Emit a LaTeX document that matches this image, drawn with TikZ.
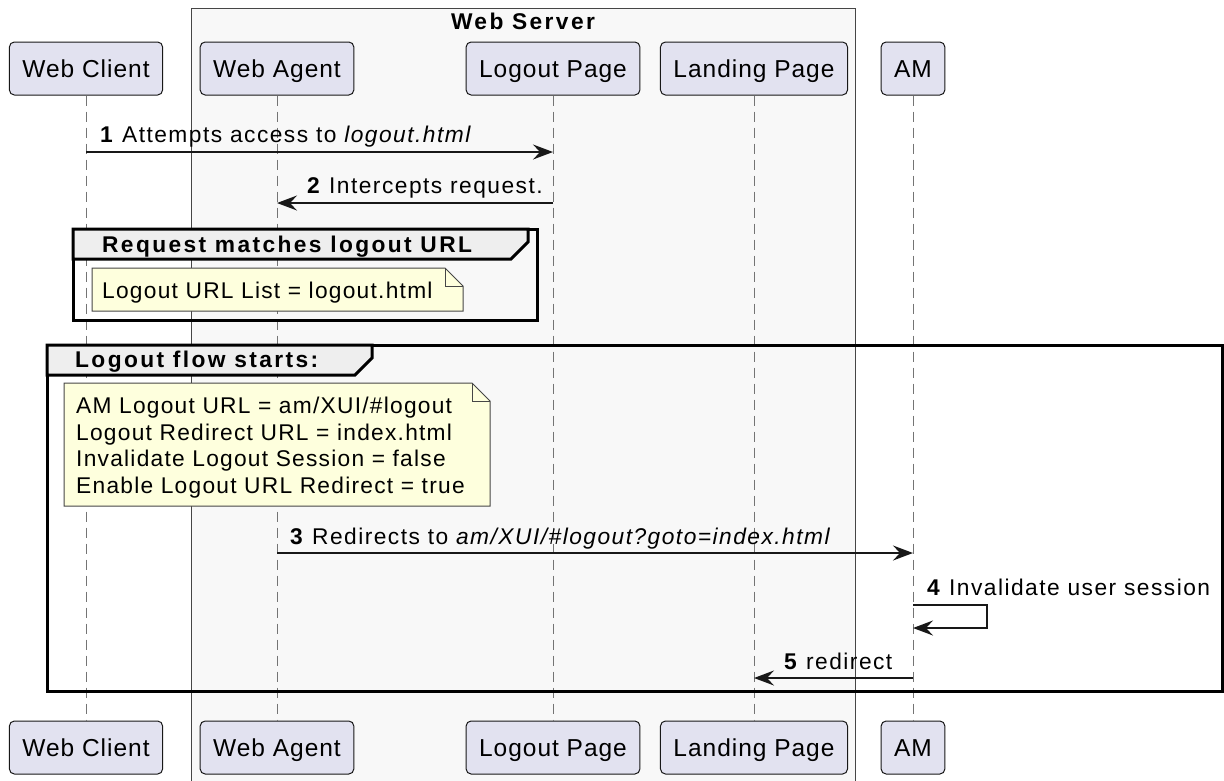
\documentclass[tikz,border=0pt]{standalone}
\usepackage{fontspec}
\setmainfont{Liberation Sans}[LetterSpace=4]
\usetikzlibrary{arrows.meta}

\definecolor{actorfill}{HTML}{E2E2F0}
\definecolor{linecol}{HTML}{181818}
\definecolor{notefill}{HTML}{FEFFDD}
\definecolor{tabfill}{HTML}{EEEEEE}
\definecolor{boxfill}{HTML}{F8F8F8}

\newcommand\actorfont{\fontsize{24.5}{28}\selectfont}
\newcommand\msgfont{\fontsize{22.75}{26.6}\selectfont\addfontfeature{LetterSpace=6.5}}
\newcommand\notefont{\fontsize{22.75}{26.6}\selectfont\addfontfeature{LetterSpace=5.5}}
\newcommand\headfont{\fontsize{22.75}{26.6}\selectfont\bfseries\addfontfeature{LetterSpace=10.5}}

\tikzset{
  actor/.style={draw=linecol, fill=actorfill, rounded corners=5pt, line width=1pt,
    minimum height=53pt, inner xsep=13pt, text height=17.5pt, text depth=0.5pt,
    font=\actorfont},
  lifeline/.style={draw=linecol!60, line width=1pt, dash pattern=on 10pt off 6pt},
  msg/.style={draw=linecol, line width=1.75pt, -{Stealth[length=20pt,width=15pt,inset=7pt]}},
  msgtext/.style={anchor=base west, inner sep=0pt, font=\msgfont},
  notebg/.style={draw=linecol!80, fill=notefill, line width=1pt},
  notetext/.style={anchor=base west, inner sep=0pt, font=\notefont},
  frame/.style={draw=black, line width=3pt},
  tab/.style={draw=black, fill=tabfill, line width=3pt},
  head/.style={anchor=base west, inner sep=0pt, font=\headfont}
}

% note with a folded corner: left, top, right, bottom
\newcommand\notebox[4]{%
  \filldraw[notebg] (#1,#2) -- (#3-18,#2) -- (#3,#2+18) -- (#3,#4) -- (#1,#4) -- cycle;
  \draw[notebg,fill=none] (#3-18,#2) -- (#3-18,#2+18) -- (#3,#2+18);}

% group frame and its title tab: left, top, right, bottom, tab right, tab bottom
\newcommand\groupframe[6]{%
  \draw[frame] (#1,#2) rectangle (#3,#4);
  \filldraw[tab] (#1,#2) -- (#5,#2) -- (#5,#6-17) -- (#5-17,#6) -- (#1,#6) -- cycle;}

\begin{document}
\begin{tikzpicture}[x=1pt,y=-1pt]
  \useasboundingbox (0,0) rectangle (1224,780);

  % the web server box
  \filldraw[fill=boxfill, draw=linecol!80, line width=1pt] (191,8) rectangle (855,800);
  \node[font=\headfont, anchor=base] (ws) at (523,29) {Web Server};

  % participants, top and bottom
  \foreach \name/\x/\txt in {wc/86/Web Client, wa/277/Web Agent, lp/553/Logout Page,
                            la/754/Landing Page, am/913/AM} {
    \node[actor] (\name) at (\x,68.5) {\txt};
    \node[actor] (\name2) at (\x,747.5) {\txt};
  }
  \foreach \name in {wc,wa,lp,la,am}
    \draw[lifeline] (\name.south) -- (\name2.north);

  % first group
  \groupframe{73}{229}{537}{320}{528}{259}
  \node[head] (g1) at (102,252) {Request matches logout URL};
  \notebox{92}{268}{463}{311}
  \node[notetext] (n1) at (102,298) {Logout URL List = logout.html};

  % second group
  \groupframe{47}{345}{1222}{691}{372}{375}
  \node[head] (g2) at (75,367) {Logout flow starts:};
  \notebox{64}{383}{490}{506}
  \node[notetext, anchor=north west, align=left] (n2) at (76,397)
    {AM Logout URL = am/XUI/\#logout\\
     Logout Redirect URL = index.html\\
     Invalidate Logout Session = false\\
     Enable Logout URL Redirect = true};

  % messages
  \coordinate (y1) at (0,152);
  \coordinate (y2) at (0,203);
  \coordinate (y3) at (0,553);
  \coordinate (y4) at (0,605);
  \coordinate (y4e) at (0,628);
  \coordinate (y5) at (0,678);

  \draw[msg] (wc |- y1) -- (lp |- y1);
  \node[msgtext] (t1) at ([xshift=14pt,yshift=10pt]wc |- y1)
    {\textbf{1} Attempts access to \textit{logout.html}};

  \draw[msg] (lp |- y2) -- (wa |- y2);
  \node[msgtext] (t2) at ([xshift=30pt,yshift=10pt]wa |- y2)
    {\textbf{2} Intercepts request.};

  \draw[msg] (wa |- y3) -- (am |- y3);
  \node[msgtext] (t3) at ([xshift=13pt,yshift=9pt]wa |- y3)
    {\textbf{3} Redirects to \textit{am/XUI/\#logout?goto=index.html}};

  \draw[msg] (am |- y4) -| ([xshift=74pt]am |- y4e) -- (am |- y4e);
  \node[msgtext] (t4) at ([xshift=14pt,yshift=10pt]am |- y4)
    {\textbf{4} Invalidate user session};

  \draw[msg] (am |- y5) -- (la |- y5);
  \node[msgtext] (t5) at ([xshift=30pt,yshift=9pt]la |- y5)
    {\textbf{5} redirect};
\end{tikzpicture}
\end{document}
